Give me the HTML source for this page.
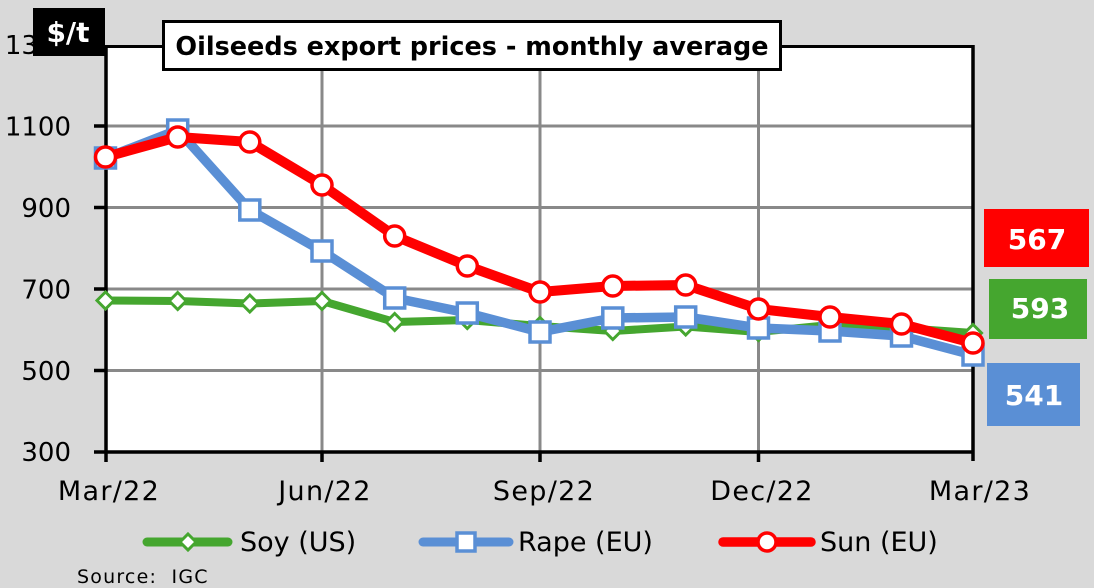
<!DOCTYPE html>
<html><head><meta charset="utf-8"><style>
html,body{margin:0;padding:0;background:#d9d9d9;}
svg{display:block;}
text{font-family:"DejaVu Sans","Liberation Sans",sans-serif;}
</style></head><body>
<svg width="1094" height="588" viewBox="0 0 1094 588" xmlns="http://www.w3.org/2000/svg">
<rect x="0" y="0" width="1094" height="588" fill="#d9d9d9"/>
<!-- plot area -->
<rect x="106" y="46" width="867" height="406" fill="#ffffff"/>
<!-- gridlines -->
<g stroke="#898989" stroke-width="3">
<line x1="106" y1="126" x2="973" y2="126"/>
<line x1="106" y1="207.5" x2="973" y2="207.5"/>
<line x1="106" y1="289" x2="973" y2="289"/>
<line x1="106" y1="370.5" x2="973" y2="370.5"/>
<line x1="322" y1="46" x2="322" y2="452"/>
<line x1="540" y1="46" x2="540" y2="452"/>
<line x1="758.5" y1="46" x2="758.5" y2="452"/>
</g>
<!-- borders/axes -->
<g stroke="#000" stroke-width="3.5">
<line x1="106" y1="46.5" x2="973" y2="46.5" stroke-width="3"/>
<line x1="973" y1="45" x2="973" y2="461"/>
<line x1="106" y1="45" x2="106" y2="462"/>
<line x1="94" y1="452" x2="974.5" y2="452"/>
<line x1="94" y1="126" x2="106" y2="126"/>
<line x1="94" y1="207.5" x2="106" y2="207.5"/>
<line x1="94" y1="289" x2="106" y2="289"/>
<line x1="94" y1="370.5" x2="106" y2="370.5"/>
<line x1="322" y1="452" x2="322" y2="462"/>
<line x1="540" y1="452" x2="540" y2="462"/>
<line x1="758.5" y1="452" x2="758.5" y2="462"/>
</g>
<!-- y labels -->
<g font-size="26" fill="#000" text-anchor="end">
<text x="71" y="54">1300</text>
<text x="71" y="135.5">1100</text>
<text x="71" y="217">900</text>
<text x="71" y="298.5">700</text>
<text x="71" y="380">500</text>
<text x="71" y="461">300</text>
</g>
<!-- $/t box -->
<rect x="33" y="8" width="72" height="48" fill="#000"/>
<text x="68" y="42" font-size="28" font-weight="bold" fill="#fff" text-anchor="middle">$/t</text>
<!-- title -->
<rect x="163.5" y="21.5" width="617" height="48" fill="#fff" stroke="#000" stroke-width="3"/>
<text x="472" y="55" font-size="25.5" font-weight="bold" fill="#000" text-anchor="middle">Oilseeds export prices - monthly average</text>
<!-- x labels -->
<g font-size="27" fill="#000" text-anchor="middle" letter-spacing="1.3">
<text x="109" y="500">Mar/22</text>
<text x="325" y="500">Jun/22</text>
<text x="544" y="500">Sep/22</text>
<text x="762" y="500">Dec/22</text>
<text x="980" y="500">Mar/23</text>
</g>
<!-- Soy -->
<polyline fill="none" stroke="#45a62f" stroke-width="8" stroke-linejoin="round" points="105.5,300.5 177.7,301 249.8,303.5 322,301 394.7,322 467.3,320 540,326 612.8,331 685.7,326.5 758.5,332 830,325 901.5,328 973,333"/>
<g fill="#fff" stroke="#45a62f" stroke-width="3">
<polygon points="105.5,292 114,300.5 105.5,309 97,300.5"/>
<polygon points="177.7,292.5 186.2,301 177.7,309.5 169.2,301"/>
<polygon points="249.8,295 258.3,303.5 249.8,312 241.3,303.5"/>
<polygon points="322,292.5 330.5,301 322,309.5 313.5,301"/>
<polygon points="394.7,313.5 403.2,322 394.7,330.5 386.2,322"/>
<polygon points="467.3,311.5 475.8,320 467.3,328.5 458.8,320"/>
<polygon points="540,317.5 548.5,326 540,334.5 531.5,326"/>
<polygon points="612.8,322.5 621.3,331 612.8,339.5 604.3,331"/>
<polygon points="685.7,318 694.2,326.5 685.7,335 677.2,326.5"/>
<polygon points="758.5,323.5 767,332 758.5,340.5 750,332"/>
<polygon points="830,316.5 838.5,325 830,333.5 821.5,325"/>
<polygon points="901.5,319.5 910,328 901.5,336.5 893,328"/>
<polygon points="973,324.5 981.5,333 973,341.5 964.5,333"/>
</g>
<!-- Rape -->
<polyline fill="none" stroke="#5a8fd5" stroke-width="9.5" stroke-linejoin="round" points="105.5,158 177.7,130 249.8,210 322,251 394.7,298 467.3,313 540,332 612.8,318 685.7,317 758.5,328 830,331 901.5,336 973,355"/>
<g fill="#fff" stroke="#5a8fd5" stroke-width="3.5">
<rect x="95.5" y="148" width="20" height="20"/>
<rect x="167.7" y="120" width="20" height="20"/>
<rect x="239.8" y="200" width="20" height="20"/>
<rect x="312" y="241" width="20" height="20"/>
<rect x="384.7" y="288" width="20" height="20"/>
<rect x="457.3" y="303" width="20" height="20"/>
<rect x="530" y="322" width="20" height="20"/>
<rect x="602.8" y="308" width="20" height="20"/>
<rect x="675.7" y="307" width="20" height="20"/>
<rect x="748.5" y="318" width="20" height="20"/>
<rect x="820" y="321" width="20" height="20"/>
<rect x="891.5" y="326" width="20" height="20"/>
<rect x="963" y="345" width="20" height="20"/>
</g>
<!-- Sun -->
<polyline fill="none" stroke="#ff0000" stroke-width="10" stroke-linejoin="round" points="105.5,157 177.7,137 249.8,142 322,185 394.7,236 467.3,266 540,292 612.8,286 685.7,285 758.5,309 830,317 901.5,324 973,343"/>
<g fill="#fff" stroke="#ff0000" stroke-width="3.5">
<circle cx="105.5" cy="157" r="10"/>
<circle cx="177.7" cy="137" r="10"/>
<circle cx="249.8" cy="142" r="10"/>
<circle cx="322" cy="185" r="10"/>
<circle cx="394.7" cy="236" r="10"/>
<circle cx="467.3" cy="266" r="10"/>
<circle cx="540" cy="292" r="10"/>
<circle cx="612.8" cy="286" r="10"/>
<circle cx="685.7" cy="285" r="10"/>
<circle cx="758.5" cy="309" r="10"/>
<circle cx="830" cy="317" r="10"/>
<circle cx="901.5" cy="324" r="10"/>
<circle cx="973" cy="343" r="10"/>
</g>
<!-- value boxes -->
<rect x="984" y="209" width="105" height="58" fill="#ff0000"/>
<text x="1037" y="249" font-size="28" font-weight="bold" fill="#fff" text-anchor="middle">567</text>
<rect x="989" y="279" width="98" height="60" fill="#45a62f"/>
<text x="1040" y="318" font-size="28" font-weight="bold" fill="#fff" text-anchor="middle">593</text>
<rect x="987" y="363" width="93" height="63" fill="#5a8fd5"/>
<text x="1034" y="405" font-size="28" font-weight="bold" fill="#fff" text-anchor="middle">541</text>
<!-- legend -->
<line x1="147" y1="542" x2="228" y2="542" stroke="#45a62f" stroke-width="9" stroke-linecap="round"/>
<polygon points="188,534 196,542 188,550 180,542" fill="#fff" stroke="#45a62f" stroke-width="3"/>
<text x="240" y="551" font-size="27" fill="#000">Soy (US)</text>
<line x1="423" y1="542" x2="509" y2="542" stroke="#5a8fd5" stroke-width="9" stroke-linecap="round"/>
<rect x="457" y="533" width="18" height="18" fill="#fff" stroke="#5a8fd5" stroke-width="3.5"/>
<text x="518" y="551" font-size="27" fill="#000">Rape (EU)</text>
<line x1="723" y1="542" x2="811" y2="542" stroke="#ff0000" stroke-width="9.5" stroke-linecap="round"/>
<circle cx="767" cy="542" r="9" fill="#fff" stroke="#ff0000" stroke-width="3.5"/>
<text x="820" y="551" font-size="27" fill="#000">Sun (EU)</text>
<text x="77" y="583" font-size="19" fill="#000" letter-spacing="1.2">Source:&#160; IGC</text>
</svg>
</body></html>
